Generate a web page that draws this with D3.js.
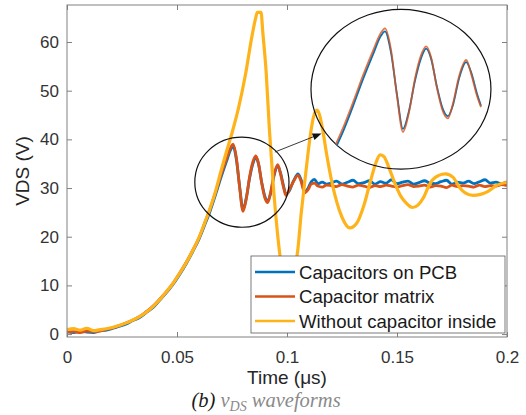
<!DOCTYPE html>
<html><head><meta charset="utf-8">
<script src="https://cdn.jsdelivr.net/npm/d3@7"></script>
<style>body{margin:0;background:#fff}svg{display:block}</style>
</head><body><svg id="c" width="526" height="415"></svg>
<script>
const seriesNames = ["Capacitors on PCB", "Capacitor matrix", "Without capacitor inside"];
const seriesColors = ["#0072BD", "#D95319", "#FFB31A"];
const xTicks = [0, 0.05, 0.1, 0.15, 0.2];
const xTickLabels = ["0", "0.05", "0.1", "0.15", "0.2"];
const yTicks = [0, 10, 20, 30, 40, 50, 60];

// time (µs) for the two capacitor traces
const tCap = [0,0.003,0.006,0.009,0.012,0.015,0.018,0.021,0.024,0.027,
  0.030,0.033,0.036,0.039,0.042,0.045,0.048,0.051,0.054,0.057,
  0.060,0.0625,0.065,0.0675,0.070,0.0725,0.0745,0.0755,0.077,0.0785,
  0.080,0.0815,0.083,0.0845,0.0858,0.087,0.0885,0.090,0.0912,0.0925,
  0.094,0.0958,0.097,0.0985,0.0995,0.101,0.103,0.105,0.1065,0.108,
  0.1095,0.111,0.1125,0.114,0.116,0.118,
  0.120,0.1225,0.125,0.1275,0.130,0.1325,0.135,0.1375,0.140,0.1425,
  0.145,0.1475,0.150,0.1525,0.155,0.1575,0.160,0.1625,0.165,0.1675,
  0.170,0.1725,0.175,0.1775,0.180,0.1825,0.185,0.1875,0.190,0.1925,
  0.195,0.1975,0.200];
const vPCB = [0.5,0.3,0.6,0.4,0.3,0.7,0.8,1.2,1.6,2.1,
  2.8,3.4,4.4,5.4,6.9,8.4,10.1,12.1,14.3,16.8,
  19.5,22.3,25.2,28.6,32.2,35.5,38.0,38.6,35.8,30.2,
  25.6,28.0,32.0,35.0,36.3,35.0,31.2,28.2,27.3,28.8,
  32.3,34.5,33.2,30.3,28.7,29.4,31.5,32.9,31.6,29.3,
  29.9,31.3,31.8,30.9,31.2,30.8,
  31.0,31.4,30.8,31.2,31.6,30.9,31.1,31.5,30.8,31.3,
  31.0,31.7,30.9,31.2,31.4,30.8,31.1,31.5,31.0,30.9,
  31.3,31.6,30.8,31.2,31.0,31.4,30.9,31.3,31.7,31.0,
  31.2,30.9,31.3];
const vMatrix = [0.4,0.5,0.3,0.6,0.5,0.6,1.0,1.3,1.8,2.3,
  2.9,3.6,4.6,5.7,7.1,8.6,10.3,12.4,14.6,17.1,
  19.8,22.7,25.7,29.1,32.7,36.0,38.4,39.0,36.2,30.0,
  25.2,27.8,32.3,35.4,36.6,35.2,31.0,27.9,27.0,29.0,
  32.6,34.8,33.0,30.0,28.5,29.6,31.4,32.6,31.2,29.0,
  29.6,30.8,31.0,30.4,30.2,30.6,
  30.5,30.3,30.7,30.4,30.2,30.6,30.4,30.1,30.5,30.3,
  30.6,30.4,30.2,30.5,30.7,30.3,30.4,30.6,30.2,30.5,
  30.4,30.1,30.6,30.3,30.5,30.4,30.2,30.6,30.3,30.5,
  30.4,30.7,30.5];

// trace without capacitor
const tNoCap = [0,0.003,0.006,0.009,0.012,0.015,0.018,0.021,0.024,0.027,
  0.030,0.033,0.036,0.039,0.042,0.045,0.048,0.051,0.054,0.057,
  0.060,0.0625,0.065,0.0675,0.070,0.0725,0.075,0.078,0.081,0.084,
  0.0858,0.0865,0.0882,0.089,0.0905,0.092,0.0936,0.0955,0.097,0.0985,
  0.100,0.1015,0.103,0.1045,0.1065,0.1085,0.1105,0.112,0.1136,0.1148,
  0.1162,0.118,0.1205,0.1227,0.125,0.1286,0.132,0.135,0.138,0.1405,
  0.1423,0.144,0.1465,0.149,0.1515,0.154,0.157,0.1595,0.162,0.164,
  0.166,0.169,0.172,0.1755,0.1786,0.181,0.1845,0.188,0.191,0.1955,
  0.200];
const vNoCap = [0.9,1.1,0.8,1.2,0.7,0.9,1.1,1.4,1.8,2.3,
  2.9,3.6,4.5,5.6,7.0,8.6,10.3,12.3,14.5,17.0,
  19.8,22.7,25.8,29.3,33.5,37.5,41.3,46.5,53.0,61.0,
  65.0,66.1,66.1,62.0,54.0,42.0,31.6,21.5,15.5,12.5,
  11.8,12.5,14.5,16.0,25.0,33.0,40.5,44.5,46.0,45.0,
  42.0,37.0,31.0,27.0,24.0,21.8,23.0,26.5,31.5,35.3,
  36.8,36.5,34.0,31.0,28.5,27.0,26.0,26.5,28.0,30.0,
  31.6,32.6,32.9,32.2,30.0,29.0,28.5,28.7,29.2,30.6,
  31.2];

// magnified view: source window and where it is drawn (both in data units)
const zoomSourceT = [0.0618, 0.1];
const zoomSourceV = [24.8, 38.8];
const zoomTargetT = [0.1196, 0.1891];
const zoomTargetV = [40.9, 62.5];
const smallEllipse = {t: 0.0795, v: 31.2, rt: 0.0214, rv: 9.25};
const bigEllipse = {t: 0.1518, v: 50.3, rt: 0.0409, rv: 16.4};
const arrowPts = [[0.0945, 37.4], [0.1157, 41.2]];

const svg = d3.select("#c");
const L = 67, R = 507, T = 5, B = 337;
const x = d3.scaleLinear().domain([0, 0.2]).range([L, R]);
const y = d3.scaleLinear().domain([-0.6, 67.6]).range([B, T]);
const font = "'Liberation Sans', Arial, Helvetica, sans-serif";

svg.append("defs").append("clipPath").attr("id", "plotclip")
  .append("rect").attr("x", L).attr("y", T).attr("width", R - L).attr("height", B - T);

const mk = (ts, vs) => ts.map((t, i) => [t, vs[i]]);
const series = [mk(tCap, vPCB), mk(tCap, vMatrix), mk(tNoCap, vNoCap)];
const line = d3.line().x(d => x(d[0])).y(d => y(d[1])).curve(d3.curveMonotoneX);

const gl = svg.append("g").attr("clip-path", "url(#plotclip)");
series.forEach((s, i) => {
  gl.append("path").attr("d", line(s)).attr("fill", "none")
    .attr("stroke", seriesColors[i]).attr("stroke-width", i === 2 ? 3.2 : 2.8)
    .attr("stroke-linejoin", "round");
});

// axes
function styleAxis(g) {
  g.select(".domain").remove();
  g.selectAll(".tick line").attr("stroke", "#808080");
  g.selectAll("text").attr("fill", "#333").style("font-family", font).style("font-size", "17px");
}
svg.append("g").attr("transform", `translate(0,${B})`)
  .call(d3.axisBottom(x).tickValues(xTicks).tickFormat((d, i) => xTickLabels[i]).tickSizeInner(-5).tickSizeOuter(0).tickPadding(14))
  .call(styleAxis);
svg.append("g").attr("transform", `translate(0,${T})`)
  .call(d3.axisTop(x).tickValues(xTicks).tickFormat("").tickSizeInner(-5).tickSizeOuter(0))
  .call(styleAxis);
svg.append("g").attr("transform", `translate(${L},0)`)
  .call(d3.axisLeft(y).tickValues(yTicks).tickSizeInner(-5).tickSizeOuter(0).tickPadding(8))
  .call(styleAxis);
svg.append("g").attr("transform", `translate(${R},0)`)
  .call(d3.axisRight(y).tickValues(yTicks).tickFormat("").tickSizeInner(-5).tickSizeOuter(0))
  .call(styleAxis);
svg.append("rect").attr("x", L).attr("y", T).attr("width", R - L).attr("height", B - T)
  .attr("fill", "none").attr("stroke", "#808080").attr("stroke-width", 1);

// labels
svg.append("text").attr("x", (L + R) / 2).attr("y", 384).attr("text-anchor", "middle")
  .style("font-family", font).style("font-size", "19px").attr("fill", "#262626").text("Time (μs)");
svg.append("text").attr("transform", `translate(29,${(T + B) / 2}) rotate(-90)`).attr("text-anchor", "middle")
  .style("font-family", font).style("font-size", "19px").attr("fill", "#262626").text("VDS (V)");

// legend
const lg = svg.append("g");
lg.append("rect").attr("x", 251).attr("y", 256).attr("width", 254).attr("height", 77)
  .attr("fill", "#fff").attr("stroke", "#5a5a5a").attr("stroke-width", 0.8);
seriesNames.forEach((n, i) => {
  const yy = 272 + i * 24.5;
  lg.append("line").attr("x1", 255).attr("x2", 295).attr("y1", yy).attr("y2", yy)
    .attr("stroke", seriesColors[i]).attr("stroke-width", 2.5);
  lg.append("text").attr("x", 299).attr("y", yy + 6.5).style("font-family", font)
    .style("font-size", "18.6px").attr("fill", "#1a1a1a").text(n);
});

// ellipses
[smallEllipse, bigEllipse].forEach(e => {
  svg.append("ellipse").attr("cx", x(e.t)).attr("cy", y(e.v))
    .attr("rx", x(e.t + e.rt) - x(e.t)).attr("ry", y(e.v) - y(e.v + e.rv))
    .attr("fill", "none").attr("stroke", "#111").attr("stroke-width", 1.2);
});

// magnified view
svg.select("defs").append("clipPath").attr("id", "zoomclip").append("ellipse")
  .attr("cx", x(bigEllipse.t)).attr("cy", y(bigEllipse.v))
  .attr("rx", x(bigEllipse.t + bigEllipse.rt) - x(bigEllipse.t))
  .attr("ry", y(bigEllipse.v) - y(bigEllipse.v + bigEllipse.rv));
const zx = d3.scaleLinear().domain(zoomSourceT).range(zoomTargetT.map(x));
const zy = d3.scaleLinear().domain(zoomSourceV).range(zoomTargetV.map(y));
const zline = d3.line().x(d => zx(d[0])).y(d => zy(d[1])).curve(d3.curveMonotoneX);
const gz = svg.append("g").attr("clip-path", "url(#zoomclip)");
[0, 1].forEach(i => {
  const s = series[i].filter(d => d[0] >= 0.0598 && d[0] <= zoomSourceT[1] + 1e-9);
  gz.append("path").attr("d", zline(s)).attr("fill", "none")
    .attr("stroke", seriesColors[i]).attr("stroke-width", 1.8)
    .attr("stroke-opacity", i === 1 ? 0.8 : 1).attr("stroke-linejoin", "round");
});

// arrow
const ax1 = x(arrowPts[0][0]), ay1 = y(arrowPts[0][1]), ax2 = x(arrowPts[1][0]), ay2 = y(arrowPts[1][1]);
const ang = Math.atan2(ay2 - ay1, ax2 - ax1);
const hl = 9, hw = 3.5;
svg.append("line").attr("x1", ax1).attr("y1", ay1)
  .attr("x2", ax2 - hl * Math.cos(ang)).attr("y2", ay2 - hl * Math.sin(ang))
  .attr("stroke", "#222").attr("stroke-width", 0.9);
const bx = ax2 - hl * Math.cos(ang), by = ay2 - hl * Math.sin(ang);
svg.append("path").attr("d", `M${ax2},${ay2}L${bx - hw * Math.sin(ang)},${by + hw * Math.cos(ang)}L${bx + hw * Math.sin(ang)},${by - hw * Math.cos(ang)}Z`)
  .attr("fill", "#111");

// caption
const cap = svg.append("text").attr("x", 266).attr("y", 407).attr("text-anchor", "middle")
  .style("font-family", "'Liberation Serif', 'Times New Roman', serif").style("font-style", "italic")
  .style("font-size", "20.5px");
cap.append("tspan").attr("fill", "#1a1a1a").text("(b) ");
cap.append("tspan").attr("fill", "#8a8a8a").text("v");
cap.append("tspan").attr("fill", "#8a8a8a").attr("font-size", "14px").attr("dy", 4).text("DS");
cap.append("tspan").attr("fill", "#8a8a8a").attr("dy", -4).text(" waveforms");
</script></body></html>
